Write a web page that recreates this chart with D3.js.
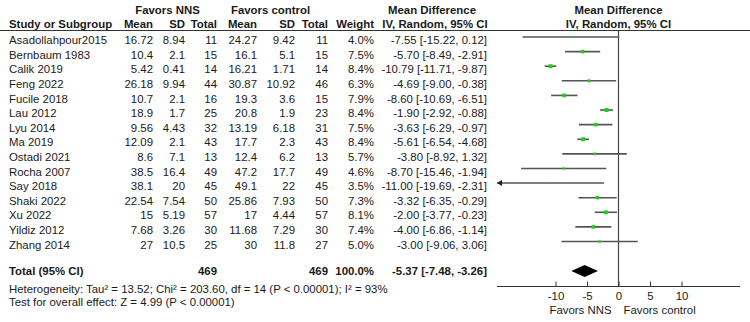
<!DOCTYPE html>
<html>
<head>
<meta charset="utf-8">
<script src="https://cdn.jsdelivr.net/npm/d3@7"></script>
<style>
  body { margin: 0; background: #fff; }
  svg { display: block; font-family: "Liberation Sans", Arial, sans-serif; }
</style>
</head>
<body>
<svg id="forest" width="750" height="322"></svg>
<script>
// study rows
var studies = ["Asadollahpour2015", "Bernbaum 1983", "Calik 2019", "Feng 2022", "Fucile 2018",
  "Lau 2012", "Lyu 2014", "Ma 2019", "Ostadi 2021", "Rocha 2007", "Say 2018", "Shaki 2022",
  "Xu 2022", "Yildiz 2012", "Zhang 2014"]
var nnsMean = [16.72, 10.4, 5.42, 26.18, 10.7, 18.9, 9.56, 12.09, 8.6, 38.5, 38.1, 22.54, 15, 7.68, 27]
var nnsSD = [8.94, 2.1, 0.41, 9.94, 2.1, 1.7, 4.43, 2.1, 7.1, 16.4, 20, 7.54, 5.19, 3.26, 10.5]
var nnsN = [11, 15, 14, 44, 16, 25, 32, 43, 13, 49, 45, 50, 57, 30, 25]
var ctrlMean = [24.27, 16.1, 16.21, 30.87, 19.3, 20.8, 13.19, 17.7, 12.4, 47.2, 49.1, 25.86, 17, 11.68, 30]
var ctrlSD = [9.42, 5.1, 1.71, 10.92, 3.6, 1.9, 6.18, 2.3, 6.2, 17.7, 22, 7.93, 4.44, 7.29, 11.8]
var ctrlN = [11, 15, 14, 46, 15, 23, 31, 43, 13, 49, 45, 50, 57, 30, 27]
var weight = [4.0, 7.5, 8.4, 6.3, 7.9, 8.4, 7.5, 8.4, 5.7, 4.6, 3.5, 7.3, 8.1, 7.4, 5.0]
var md = [-7.55, -5.70, -10.79, -4.69, -8.60, -1.90, -3.63, -5.61, -3.80, -8.70, -11.00, -3.32, -2.00, -4.00, -3.00]
var ciLow = [-15.22, -8.49, -11.71, -9.00, -10.69, -2.92, -6.29, -6.54, -8.92, -15.46, -19.69, -6.35, -3.77, -6.86, -9.06]
var ciHigh = [0.12, -2.91, -9.87, -0.38, -6.51, -0.88, -0.97, -4.68, 1.32, -1.94, -2.31, -0.29, -0.23, -1.14, 3.06]

// pooled
var totalNNS = 469, totalCtrl = 469
var pooled = { md: -5.37, lo: -7.48, hi: -3.26 }
var axisTicks = [-10, -5, 0, 5, 10]
var hetText = "Heterogeneity: Tau\u00b2 = 13.52; Chi\u00b2 = 203.60, df = 14 (P < 0.00001); I\u00b2 = 93%"
var overallText = "Test for overall effect: Z = 4.99 (P < 0.00001)"

var fontSize = "11.4px"
var textColor = "#1a1a1a"
var plotLeft = 497, plotRight = 740

var svg = d3.select("#forest")

var x = d3.scaleLinear().domain([-20, 20]).range([492.5, 744.5])
var y = d3.scaleLinear().domain([0, studies.length - 1]).range([37, 241.5])
var totalY = 271, axisY = 286.5
var boxSize = d3.scaleLinear().domain([0, 8.4]).range([0, 4])

var fmt2 = v => v.toFixed(2)
var ciLabel = (m, l, h) => fmt2(m) + " [" + fmt2(l) + ", " + fmt2(h) + "]"

function txt(xp, yp, s, anchor, bold) {
  return svg.append("text")
    .attr("x", xp).attr("y", yp)
    .attr("text-anchor", anchor || "start")
    .style("font-size", fontSize)
    .style("font-weight", bold ? "bold" : "normal")
    .attr("fill", textColor)
    .text(s)
}

// headers
txt(167.5, 14, "Favors NNS", "middle", true)
txt(270.5, 14, "Favors control", "middle", true)
txt(432, 14, "Mean Difference", "middle", true)
txt(x(0), 14, "Mean Difference", "middle", true)
txt(9, 28, "Study or Subgroup", "start", true)
var headCols = [["Mean", 153], ["SD", 185], ["Total", 217], ["Mean", 257], ["SD", 295], ["Total", 328], ["Weight", 374]]
headCols.forEach(h => txt(h[1], 28, h[0], "end", true))
txt(435, 28, "IV, Random, 95% CI", "middle", true)
txt(x(0), 28, "IV, Random, 95% CI", "middle", true)

svg.append("line")
  .attr("x1", 0).attr("x2", 750)
  .attr("y1", 30.5).attr("y2", 30.5)
  .attr("stroke", "#333").attr("stroke-width", 1)

// table rows
var colX = { nm: 153, ns: 185, nn: 217, cm: 257, cs: 295, cn: 328, w: 374, ci: 487 }
studies.forEach(function(s, i) {
  var ty = y(i) + 7.2
  txt(9, ty, s)
  txt(colX.nm, ty, String(nnsMean[i]), "end")
  txt(colX.ns, ty, String(nnsSD[i]), "end")
  txt(colX.nn, ty, String(nnsN[i]), "end")
  txt(colX.cm, ty, String(ctrlMean[i]), "end")
  txt(colX.cs, ty, String(ctrlSD[i]), "end")
  txt(colX.cn, ty, String(ctrlN[i]), "end")
  txt(colX.w, ty, weight[i].toFixed(1) + "%", "end")
  txt(colX.ci, ty, ciLabel(md[i], ciLow[i], ciHigh[i]), "end")
})

// total row
var tty = totalY + 4.2
txt(9, tty, "Total (95% CI)", "start", true)
txt(colX.nn, tty, String(totalNNS), "end", true)
txt(colX.cn, tty, String(totalCtrl), "end", true)
txt(colX.w, tty, "100.0%", "end", true)
txt(colX.ci, tty, ciLabel(pooled.md, pooled.lo, pooled.hi), "end", true)
txt(9, 292.5, hetText)
txt(9, 305.5, overallText)

// zero line
svg.append("line")
  .attr("x1", x(0)).attr("x2", x(0))
  .attr("y1", 30.5).attr("y2", axisY)
  .attr("stroke", "#444").attr("stroke-width", 1.2)

// CI lines
var ci = svg.append("g")
ci.selectAll("line")
  .data(studies)
  .enter()
  .append("line")
  .attr("x1", (d, i) => Math.max(x(ciLow[i]), plotLeft))
  .attr("x2", (d, i) => Math.min(x(ciHigh[i]), plotRight))
  .attr("y1", (d, i) => y(i))
  .attr("y2", (d, i) => y(i))
  .attr("stroke", "#555")
  .attr("stroke-width", 1.6)

// arrows where CI runs off the plot
studies.forEach(function(d, i) {
  if (x(ciLow[i]) < plotLeft) {
    var yy = y(i)
    svg.append("path")
      .attr("d", `M${plotLeft},${yy} L${plotLeft + 5},${yy - 3} L${plotLeft + 5},${yy + 3} Z`)
      .attr("fill", "#222")
  }
})

// study markers
svg.append("g")
  .selectAll("rect")
  .data(studies)
  .enter()
  .append("rect")
  .attr("x", (d, i) => x(md[i]) - boxSize(weight[i]) / 2)
  .attr("y", (d, i) => y(i) - boxSize(weight[i]) / 2)
  .attr("width", (d, i) => boxSize(weight[i]))
  .attr("height", (d, i) => boxSize(weight[i]))
  .attr("fill", "#1ed01e")

// pooled diamond
svg.append("path")
  .attr("d", `M${x(pooled.lo)},${totalY} L${x(pooled.md)},${totalY - 6} L${x(pooled.hi)},${totalY} L${x(pooled.md)},${totalY + 6} Z`)
  .attr("fill", "#000")

// axis
var xAxisGen = d3.axisBottom(x).tickValues(axisTicks).tickSize(-5).tickPadding(5).tickFormat(d => String(d))
var xAxis = svg.append("g")
  .attr("transform", `translate(0,${axisY})`)
  .call(xAxisGen)
xAxis.select(".domain").remove()
xAxis.selectAll(".tick line").attr("stroke", "#333")
xAxis.selectAll(".tick text")
  .style("font-size", fontSize)
  .style("font-family", "Liberation Sans, Arial, sans-serif")
  .attr("fill", textColor)
xAxis.append("line")
  .attr("x1", plotLeft).attr("x2", plotRight)
  .attr("stroke", "#333").attr("stroke-width", 1)

txt(x(0) - 7, 314, "Favors NNS", "end")
txt(x(0) + 5, 314, "Favors control", "start")
</script>
</body>
</html>
